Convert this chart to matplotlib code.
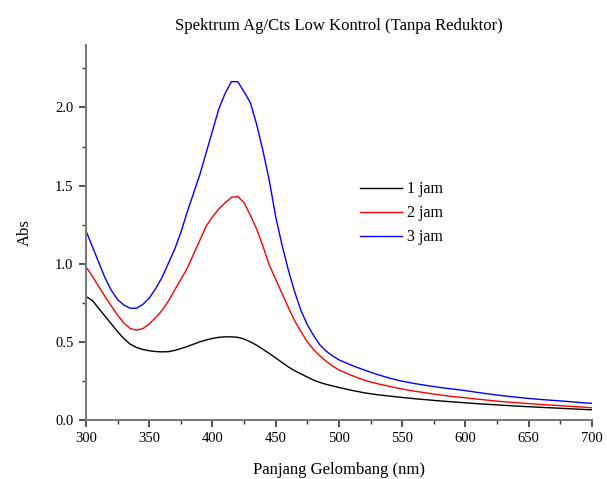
import matplotlib
matplotlib.use("Agg")
import matplotlib.pyplot as plt
from matplotlib.ticker import MultipleLocator

plt.rcParams['font.family'] = ['Liberation Serif', 'DejaVu Serif']

wavelength = [300, 305, 310, 315, 320, 325, 330, 335, 340, 345, 350, 355, 360, 365, 370,
              375, 380, 385, 390, 395, 400, 405, 410, 415, 420, 425, 430, 435, 440, 445,
              450, 455, 460, 465, 470, 475, 480, 485, 490, 495, 500,
              510, 520, 530, 540, 550, 560, 570, 580, 590, 600, 610, 620, 630, 640, 650,
              660, 670, 680, 690, 700]

abs_1jam = [0.79, 0.765, 0.715, 0.665, 0.615, 0.565, 0.52, 0.485, 0.464, 0.451, 0.443, 0.438,
            0.436, 0.437, 0.445, 0.457, 0.470, 0.485, 0.500, 0.512, 0.522, 0.529, 0.532,
            0.532, 0.529, 0.518, 0.500, 0.478, 0.452, 0.425, 0.397, 0.368, 0.340, 0.315,
            0.295, 0.275, 0.255, 0.240, 0.228, 0.218, 0.208,
            0.190, 0.174, 0.162, 0.153, 0.144, 0.136, 0.129, 0.122, 0.116, 0.110, 0.104,
            0.099, 0.094, 0.089, 0.085, 0.081, 0.077, 0.073, 0.069, 0.065]

abs_2jam = [0.98, 0.92, 0.855, 0.79, 0.73, 0.67, 0.62, 0.585, 0.575, 0.585, 0.615, 0.655,
            0.70, 0.76, 0.83, 0.90, 0.97, 1.06, 1.15, 1.24, 1.30, 1.35, 1.39, 1.425, 1.43,
            1.39, 1.31, 1.22, 1.11, 0.99, 0.90, 0.81, 0.72, 0.635, 0.565, 0.50, 0.45, 0.41,
            0.375, 0.345, 0.32,
            0.285, 0.255, 0.233, 0.215, 0.198, 0.184, 0.172, 0.160, 0.150, 0.142, 0.133,
            0.125, 0.117, 0.111, 0.105, 0.099, 0.094, 0.089, 0.084, 0.078]

abs_3jam = [1.21, 1.11, 1.01, 0.91, 0.83, 0.77, 0.735, 0.715, 0.715, 0.74, 0.78, 0.84,
            0.91, 1.00, 1.09, 1.20, 1.33, 1.45, 1.57, 1.71, 1.85, 1.99, 2.09, 2.165, 2.165,
            2.10, 2.03, 1.89, 1.72, 1.53, 1.30, 1.12, 0.96, 0.82, 0.70, 0.61, 0.54, 0.48,
            0.44, 0.41, 0.385,
            0.35, 0.32, 0.292, 0.268, 0.248, 0.233, 0.220, 0.208, 0.198, 0.188, 0.176,
            0.165, 0.155, 0.146, 0.138, 0.131, 0.125, 0.119, 0.112, 0.106]

series_labels = ['1 jam', '2 jam', '3 jam']
series_colors = ['black', 'red', 'blue']

fig = plt.figure(figsize=(6.07, 4.79), dpi=100)
ax = fig.add_axes([0.1417, 0.1232, 0.8333, 0.783])

for ys, lab, col in zip([abs_1jam, abs_2jam, abs_3jam], series_labels, series_colors):
    ax.plot(wavelength, ys, color=col, lw=1.0, label=lab)

ax.set_xlim(300, 700)
ax.set_ylim(0, 2.4)
ax.xaxis.set_major_locator(MultipleLocator(50))
ax.xaxis.set_minor_locator(MultipleLocator(25))
ax.yaxis.set_major_locator(MultipleLocator(0.5))
ax.yaxis.set_minor_locator(MultipleLocator(0.25))
ax.yaxis.set_major_formatter(plt.FuncFormatter(lambda v, p: f"{v:.1f}"))

for s in ['top', 'right']:
    ax.spines[s].set_visible(False)
for s in ['left', 'bottom']:
    ax.spines[s].set_color('#7a7a7a')
    ax.spines[s].set_linewidth(1.5)

ax.tick_params(which='major', direction='out', length=5, width=1.2, color='#333333',
               labelsize=10.5, pad=4)
ax.tick_params(which='minor', direction='out', length=3, width=1.0, color='#333333')

ax.set_xlabel('Panjang Gelombang (nm)', fontsize=12, labelpad=12)
ax.set_ylabel('Abs', fontsize=12, labelpad=16)
ax.set_title('Spektrum Ag/Cts Low Kontrol (Tanpa Reduktor)', fontsize=12, pad=11)

ax.legend(loc='upper left', bbox_to_anchor=(0.514, 0.675), frameon=False, fontsize=11.5,
          handlelength=2.6, handletextpad=0.35, labelspacing=0.5)

fig.savefig('out.png', dpi=100)
